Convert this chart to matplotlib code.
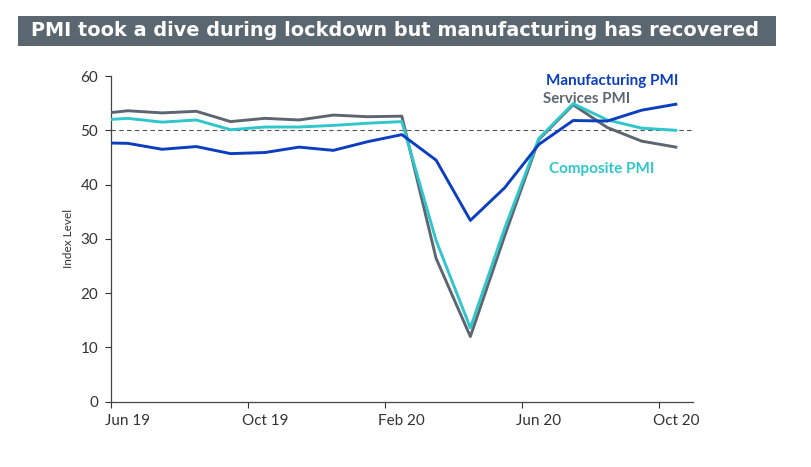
import numpy as np
import matplotlib.pyplot as plt
from matplotlib.patches import Rectangle

# monthly PMI readings, May 19 .. Oct 20 (May 19 sits left of the axis and is clipped)
months = ["May 19", "Jun 19", "Jul 19", "Aug 19", "Sep 19", "Oct 19", "Nov 19", "Dec 19",
          "Jan 20", "Feb 20", "Mar 20", "Apr 20", "May 20", "Jun 20", "Jul 20", "Aug 20",
          "Sep 20", "Oct 20"]
manufacturing = [47.7, 47.6, 46.5, 47.0, 45.7, 45.9, 46.9, 46.3, 47.9, 49.2, 44.5, 33.4,
                 39.4, 47.4, 51.8, 51.7, 53.7, 54.8]
services = [52.9, 53.6, 53.2, 53.5, 51.6, 52.2, 51.9, 52.8, 52.5, 52.6, 26.4, 12.0,
            30.5, 48.3, 54.7, 50.5, 48.0, 46.9]
composite = [51.8, 52.2, 51.5, 51.9, 50.1, 50.6, 50.6, 50.9, 51.3, 51.6, 29.7, 13.6,
             31.9, 48.5, 54.9, 51.9, 50.4, 50.0]
tick_labels = ["Jun 19", "Oct 19", "Feb 20", "Jun 20", "Oct 20"]

c_man = "#0b3fbf"
c_ser = "#5d6670"
c_com = "#2fc6cc"

plt.rcParams['font.family'] = ['Lato', 'DejaVu Sans']

fig = plt.figure(figsize=(8.12, 4.67), dpi=100)

# title banner
fig.patches.append(Rectangle((18 / 812, 1 - 46 / 467), (776 - 18) / 812, 30.5 / 467,
                             transform=fig.transFigure, facecolor="#5a6670",
                             edgecolor="none"))
fig.text(395 / 812, 1 - 31 / 467, "PMI took a dive during lockdown but manufacturing has recovered",
         color="white", fontsize=13.9, fontweight="bold", ha="center", va="center",
         family=["DejaVu Sans"])

ax = fig.add_axes([110.7 / 812, 65.3 / 467, (693 - 110.7) / 812, (401.7 - 76) / 467])

x = np.arange(len(months)) - 0.5  # data sit mid-month, first tick at Jun 19
ax.plot(x, services, color=c_ser, lw=2.1, zorder=3)
ax.plot(x, composite, color=c_com, lw=2.1, zorder=4)
ax.plot(x, manufacturing, color=c_man, lw=2.1, zorder=5)
ax.axhline(50, color="#555555", lw=0.8, ls=(0, (4, 3)), zorder=2)

ax.set_xlim(0, 17)
ax.set_ylim(0, 60)
# tick marks at month starts, labels centred on the month's point
ax.set_xticks(np.arange(0, 17, 4))
ax.set_xticklabels([])
ax.set_xticks(np.arange(0, 17, 4) + 0.5, minor=True)
ax.set_xticklabels(tick_labels, minor=True)
ax.tick_params(axis="x", which="minor", length=0, pad=8.5)
ax.set_yticks(np.arange(0, 61, 10))
ax.tick_params(axis="both", which="both", labelsize=11, colors="#333333")
ax.tick_params(axis="both", which="major", length=4, width=0.8)
ax.tick_params(axis="y", pad=5)
for s in ["top", "right"]:
    ax.spines[s].set_visible(False)
for s in ["left", "bottom"]:
    ax.spines[s].set_color("#444444")
    ax.spines[s].set_linewidth(0.9)
ax.set_ylabel("Index Level", fontsize=8.5, color="#333333", labelpad=5)

ax.text(0.747, 0.985, "Manufacturing PMI", transform=ax.transAxes, color=c_man,
        fontsize=11, fontweight="bold", va="center")
ax.text(0.743, 0.93, "Services PMI", transform=ax.transAxes, color=c_ser,
        fontsize=10.8, fontweight="bold", va="center")
ax.text(0.752, 0.715, "Composite PMI", transform=ax.transAxes, color=c_com,
        fontsize=11, fontweight="bold", va="center")

fig.savefig("out.png", dpi=100)
